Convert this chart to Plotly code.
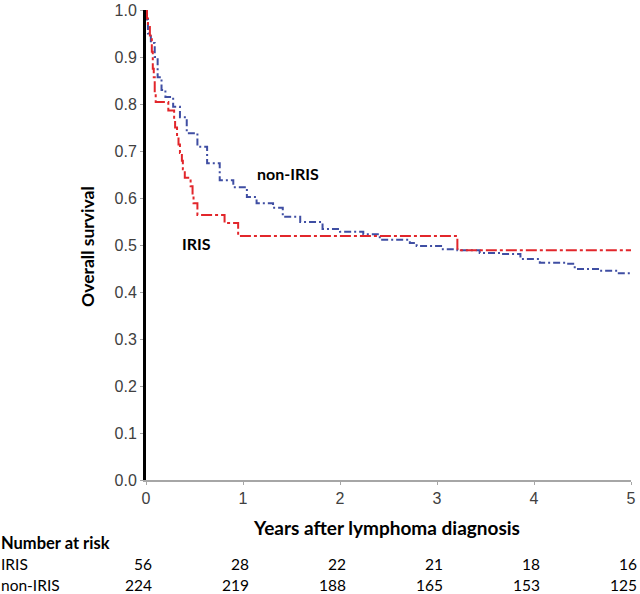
import plotly.graph_objects as go

# IRIS Kaplan-Meier curve (years, survival)
iris_t = [0, 0.01, 0.02, 0.04, 0.06, 0.07, 0.08, 0.09, 0.10, 0.23, 0.29, 0.30, 0.32, 0.335,
          0.35, 0.37, 0.38, 0.40, 0.46, 0.48, 0.49, 0.53, 0.81, 0.95, 3.21, 5.0]
iris_s = [1.0, 0.982, 0.964, 0.946, 0.911, 0.875, 0.857, 0.821, 0.804, 0.786, 0.768, 0.750, 0.732, 0.714,
          0.696, 0.679, 0.661, 0.643, 0.625, 0.607, 0.589, 0.564, 0.547, 0.519, 0.489, 0.489]

# non-IRIS Kaplan-Meier curve
non_t = [0, 0.01, 0.02, 0.05, 0.09, 0.12, 0.16, 0.20, 0.28, 0.35, 0.42, 0.53, 0.63, 0.76, 0.90,
         1.04, 1.14, 1.31, 1.41, 1.59, 1.82, 2.00, 2.24, 2.41, 2.72, 2.79, 3.06, 3.21, 3.44,
         3.65, 3.86, 4.06, 4.34, 4.42, 4.68, 4.86, 5.0]
non_s = [1.0, 0.98, 0.95, 0.93, 0.90, 0.857, 0.83, 0.815, 0.794, 0.772, 0.738, 0.709, 0.674, 0.638, 0.623,
         0.602, 0.589, 0.579, 0.560, 0.549, 0.534, 0.528, 0.523, 0.511, 0.504, 0.498, 0.491, 0.489, 0.483,
         0.481, 0.470, 0.462, 0.460, 0.449, 0.445, 0.440, 0.440]

x_ticks = [0, 1, 2, 3, 4, 5]
y_ticks = [0.0, 0.1, 0.2, 0.3, 0.4, 0.5, 0.6, 0.7, 0.8, 0.9, 1.0]

risk_groups = ["IRIS", "non-IRIS"]
risk_iris = [56, 28, 22, 21, 18, 16]
risk_non = [224, 219, 188, 165, 153, 125]

LABEL_FONT = "Lato"
TICK_FONT = "Liberation Sans"
X_MAX = 5.0

fig = go.Figure()
fig.add_trace(go.Scatter(x=non_t, y=non_s, mode="lines", line_shape="hv",
                         line=dict(color="#3f4ea3", width=2, dash="7px,3px,2px,3px"),
                         cliponaxis=False, showlegend=False, hoverinfo="skip"))
fig.add_trace(go.Scatter(x=iris_t, y=iris_s, mode="lines", line_shape="hv",
                         line=dict(color="#e2262b", width=2, dash="11px,3px,3px,3px"),
                         cliponaxis=False, showlegend=False, hoverinfo="skip"))

fig.update_layout(
    width=640, height=594,
    margin=dict(l=146, r=9, t=10, b=114, autoexpand=False),
    paper_bgcolor="white", plot_bgcolor="white",
    xaxis=dict(range=[0, X_MAX], tickvals=x_ticks, ticktext=[str(v) for v in x_ticks],
               showgrid=False, zeroline=False, showline=True, linecolor="#a6a6a6", linewidth=2,
               ticks="outside", ticklen=3, tickcolor="#a6a6a6", automargin=False,
               tickfont=dict(family=TICK_FONT, size=16, color="#404040")),
    yaxis=dict(range=[0, 1.0], tickvals=y_ticks, ticktext=[f"{v:.1f}" for v in y_ticks],
               showgrid=False, zeroline=False, showline=True, linecolor="black", linewidth=3,
               ticks="outside", ticklen=3, tickcolor="#a6a6a6", automargin=False,
               tickfont=dict(family=TICK_FONT, size=16, color="#404040")),
)

ann = []
ann.append(dict(text="<b>Overall survival</b>", xref="paper", yref="paper", x=-0.1196, y=0.498,
                xanchor="center", yanchor="middle",
                textangle=-90, showarrow=False, font=dict(family=LABEL_FONT, size=17.5, color="black")))
ann.append(dict(text="<b>Years after lymphoma diagnosis</b>", xref="paper", yref="paper", x=0.495, y=-0.100,
                xanchor="center", yanchor="middle",
                showarrow=False, font=dict(family=LABEL_FONT, size=19, color="black")))
ann.append(dict(text="<b>non-IRIS</b>", xref="x", yref="y", x=1.12, y=0.653, xanchor="left", yanchor="middle",
                showarrow=False, font=dict(family=LABEL_FONT, size=16, color="black")))
ann.append(dict(text="<b>IRIS</b>", xref="x", yref="y", x=0.35, y=0.504, xanchor="left", yanchor="middle",
                showarrow=False, font=dict(family=LABEL_FONT, size=16, color="black")))
ann.append(dict(text="<b>Number at risk</b>", xref="paper", yref="paper", x=-0.301, y=-0.134,
                xanchor="left", yanchor="middle", showarrow=False, borderpad=0,
                font=dict(family=LABEL_FONT, size=16.5, color="black")))
row_y = [-0.1787, -0.2234]
for g, yy in zip(risk_groups, row_y):
    ann.append(dict(text=g, xref="paper", yref="paper", x=-0.301, y=yy, xanchor="left", yanchor="middle",
                    showarrow=False, borderpad=0, font=dict(family=LABEL_FONT, size=15.5, color="black")))
for vals, yy in zip([risk_iris, risk_non], row_y):
    for t, v in zip(x_ticks, vals):
        ann.append(dict(text=str(v), xref="paper", yref="paper", x=t / X_MAX + 0.0144, y=yy,
                        xanchor="right", yanchor="middle", borderpad=0,
                        showarrow=False, font=dict(family=LABEL_FONT, size=15.5, color="black")))
fig.update_layout(annotations=ann)

fig.write_html("out.html", config={"displayModeBar": False},
               post_script="document.body.style.margin='0px';")
